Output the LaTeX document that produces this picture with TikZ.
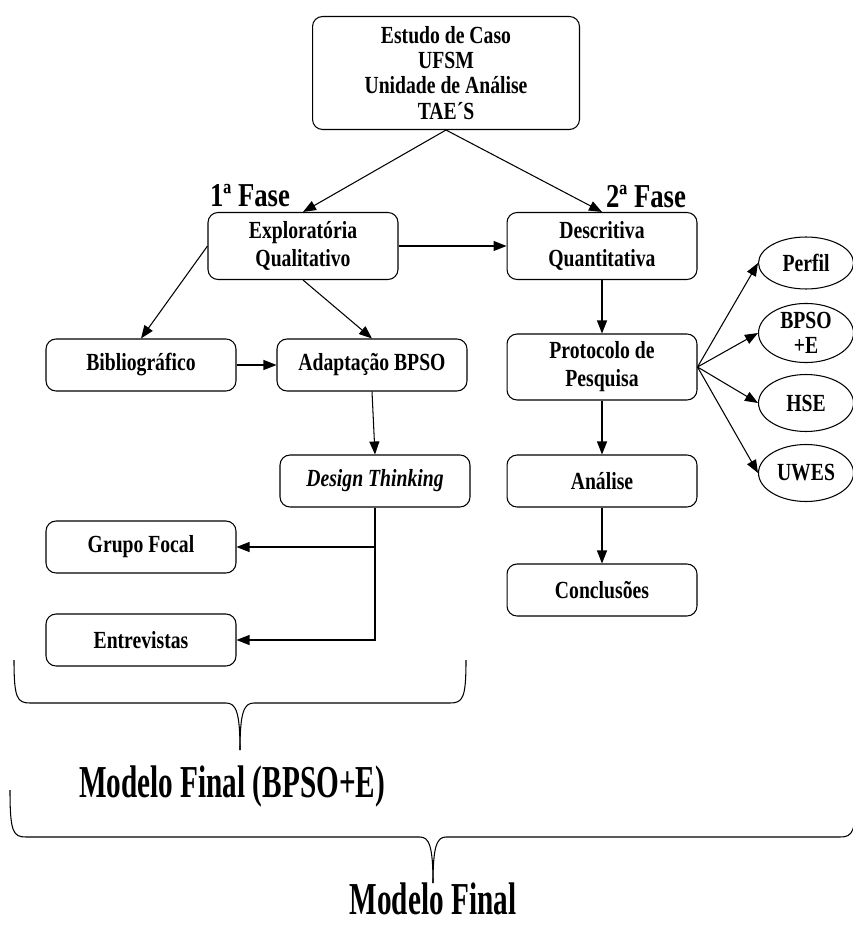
\documentclass[tikz,border=0pt]{standalone}
\usepackage{fontspec}
\setmainfont{Liberation Serif}[FakeStretch=0.8]
\newfontfamily\condensada{Liberation Serif}[FakeStretch=0.64]
\usetikzlibrary{shapes.geometric,arrows.meta}

\tikzset{
    caixa/.style={draw, rounded corners=0.2cm, minimum width=3.8cm, minimum height=1.04cm, align=center, inner sep=2pt, font=\bfseries\fontsize{14}{16}\selectfont, line width=0.6pt},
    elipse/.style={draw, ellipse, minimum width=1.9cm, minimum height=1.1cm, inner sep=0pt, align=center, font=\bfseries\fontsize{14}{14.5}\selectfont, line width=0.6pt},
    seta/.style={-{Triangle[length=0.26cm,width=0.2cm]}, line width=0.6pt},
    fase/.style={font=\bfseries\fontsize{19}{22}\selectfont},
    titulo/.style={inner sep=0pt, font=\condensada\bfseries\fontsize{26}{30}\selectfont},
    chave/.style={line width=0.6pt}
}

\begin{document}
\begin{tikzpicture}[x=0.02cm, y=-0.02cm]
    \useasboundingbox (0,0) rectangle (852,925);
    % caixas
    \node[caixa, minimum width=5.34cm, minimum height=2.26cm, font=\bfseries\fontsize{14}{14.3}\selectfont] at (446, 73) (topo) {Estudo de Caso\\UFSM\\Unidade de Análise\\TAE´S};
    \node[fase] at (250, 196) (fase1) {1ª Fase};
    \node[fase] at (646, 197) (fase2) {2ª Fase};
    \node[caixa, minimum height=1.34cm] at (303, 246) (expl) {Exploratória\\Qualitativo};
    \node[caixa, minimum height=1.34cm] at (602, 246) (desc) {Descritiva\\Quantitativa};
    \node[caixa] at (141, 365) (biblio) {Bibliográfico};
    \node[caixa] at (372, 365) (adapt) {Adaptação BPSO};
    \node[caixa] at (375, 481) (design) {\itshape Design Thinking};
    \node[caixa] at (141, 547) (grupo) {Grupo Focal};
    \node[caixa] at (141, 640) (entrev) {Entrevistas};
    \node[caixa, minimum height=1.32cm] at (602, 367) (proto) {Protocolo de\\Pesquisa};
    \node[caixa] at (602, 481) (analise) {Análise};
    \node[caixa] at (602, 590) (concl) {Conclusões};
    % elipses
    \node[elipse, minimum height=1.04cm] at (806, 263) (perfil) {Perfil};
    \node[elipse, minimum height=1.14cm] at (806, 333) (bpso) {BPSO\\+E};
    \node[elipse, minimum height=1.14cm] at (806, 403) (hse) {HSE};
    \node[elipse, minimum height=1.14cm] at (806, 473) (uwes) {UWES};
    % setas
    \draw[seta] (topo.south) -- (expl.north);
    \draw[seta] (topo.south) -- (desc.north);
    \draw[seta] (expl.east) -- (desc.west);
    \draw[seta] (expl.west) -- (biblio.north);
    \draw[seta] (expl.south) -- (adapt.north);
    \draw[seta] (biblio.east) -- (adapt.west);
    \draw[seta] (adapt.south) -- (design.north);
    \draw[seta] (design.south) |- (grupo.east);
    \draw[seta] (design.south) |- (entrev.east);
    \draw[seta] (desc.south) -- (proto.north);
    \draw[seta] (proto.south) -- (analise.north);
    \draw[seta] (analise.south) -- (concl.north);
    \draw[seta] (proto.east) -- (perfil.west);
    \draw[seta] (proto.east) -- (bpso.west);
    \draw[seta] (proto.east) -- (hse.west);
    \draw[seta] (proto.east) -- (uwes.west);
    % chaves
    \draw[chave] (14, 660) .. controls (14, 698) and (17, 703) .. (30, 703) -- (226, 703) .. controls (236, 703) and (240, 712) .. (240, 750);
    \draw[chave] (466, 660) .. controls (466, 698) and (463, 703) .. (450, 703) -- (254, 703) .. controls (244, 703) and (240, 712) .. (240, 750);
    \node[titulo] at (232, 787) (modelo1) {Modelo Final (BPSO+E)};
    \draw[chave] (10, 790) .. controls (10, 832) and (13, 837) .. (26, 837) -- (420, 837) .. controls (429, 837) and (433, 846) .. (433, 883);
    \draw[chave] (856, 790) .. controls (856, 832) and (853, 837) .. (840, 837) -- (446, 837) .. controls (437, 837) and (433, 846) .. (433, 883);
    \node[titulo] at (433, 899) (modelo2) {Modelo Final};
\end{tikzpicture}
\end{document}
